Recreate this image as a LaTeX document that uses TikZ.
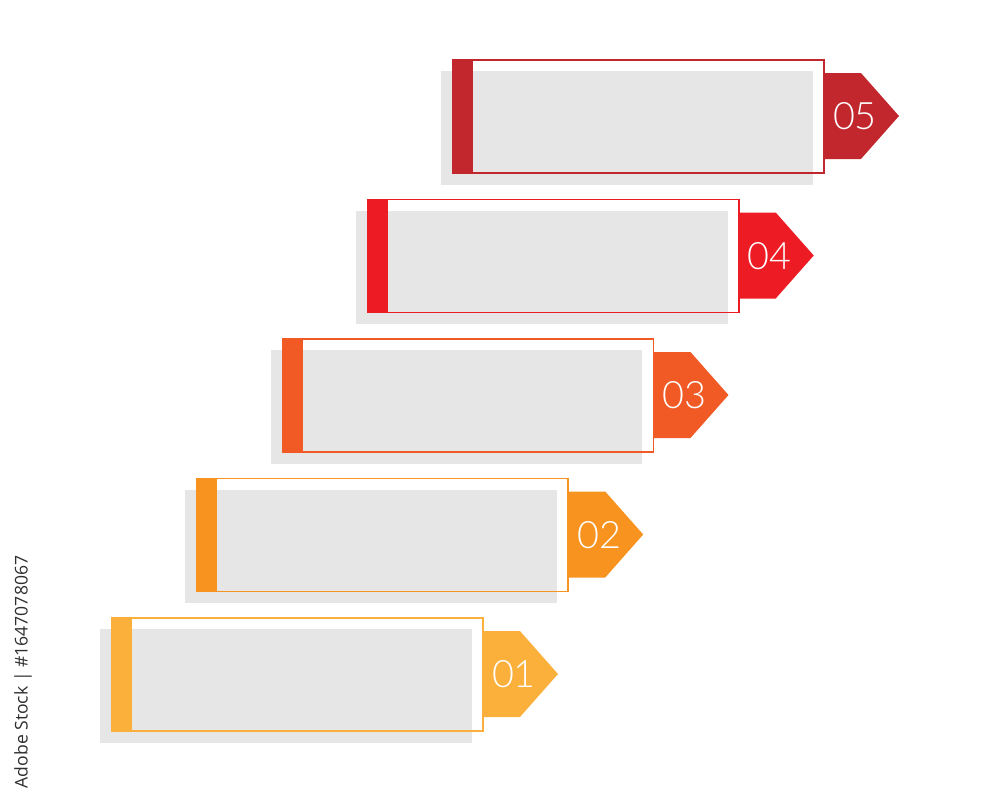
\documentclass[tikz,border=0pt]{standalone}
\usepackage{fontspec}
\usepackage{xcolor}
\usepackage{tikz}
\usetikzlibrary{
  calc,
  positioning
}
\newfontfamily\numfont{Lato}[UprightFont={* Light}]
\newfontfamily\markfont{Open Sans}
\definecolor{stepA}{HTML}{FBB03B}
\definecolor{stepB}{HTML}{F7931E}
\definecolor{stepC}{HTML}{F15A24}
\definecolor{stepD}{HTML}{ED1C24}
\definecolor{stepE}{HTML}{C1272D}
\definecolor{shade}{HTML}{E6E6E6}
\newcommand{\tab}[2]{%
  \fill[#2] ([yshift=-0.26cm]#1.north east) -- ++(37,0) -- ++(38,43)
    -- ++(-38,43) -- ++(-37,0) -- cycle;}
\tikzset{
  shadebox/.style={
    fill=shade,
    minimum width=7.44cm,
    minimum height=2.28cm,
    inner sep=0pt,
    outer sep=0pt},
  stepbox/.style={
    draw=#1,
    line width=0.9pt,
    minimum width=7.42cm,
    minimum height=2.26cm,
    inner sep=0pt,
    outer sep=0pt},
  numlabel/.style={
    text=white,
    font=\numfont\fontsize{21.5}{21.5}\selectfont,
    inner sep=0pt}
  }
\begin{document}
\begin{tikzpicture}[x=0.02cm,y=-0.02cm]
    \useasboundingbox (0,0) rectangle (1000,803);
    \node[shadebox] (sh1) at (286,686) {};
    \node[shadebox] (sh2) at (371.25,546.5) {};
    \node[shadebox] (sh3) at (456.5,407) {};
    \node[shadebox] (sh4) at (541.75,267.5) {};
    \node[shadebox] (sh5) at (627,128) {};
    \node[stepbox=stepA] (box1) at (297.5,674.5) {};
    \node[stepbox=stepB] (box2) at (382.75,535) {};
    \node[stepbox=stepC] (box3) at (468,395.5) {};
    \node[stepbox=stepD] (box4) at (553.25,256) {};
    \node[stepbox=stepE] (box5) at (638.5,116.5) {};
    \fill[stepA] (box1.north west) rectangle ([xshift=0.4cm]box1.south west);
    \fill[stepB] (box2.north west) rectangle ([xshift=0.4cm]box2.south west);
    \fill[stepC] (box3.north west) rectangle ([xshift=0.4cm]box3.south west);
    \fill[stepD] (box4.north west) rectangle ([xshift=0.4cm]box4.south west);
    \fill[stepE] (box5.north west) rectangle ([xshift=0.4cm]box5.south west);
    \tab{box1}{stepA}
    \tab{box2}{stepB}
    \tab{box3}{stepC}
    \tab{box4}{stepD}
    \tab{box5}{stepE}
    \node[numlabel] (n1) at ([xshift=0.62cm]box1.east) {01};
    \node[numlabel] (n2) at ([xshift=0.62cm]box2.east) {02};
    \node[numlabel] (n3) at ([xshift=0.62cm]box3.east) {03};
    \node[numlabel] (n4) at ([xshift=0.62cm]box4.east) {04};
    \node[numlabel] (n5) at ([xshift=0.62cm]box5.east) {05};
    \node[rotate=90, text=black!82, font=\markfont\fontsize{10}{10}\selectfont]
      (mark) at (23,672) {Adobe Stock | \#1647078067};
  \end{tikzpicture}
\end{document}
